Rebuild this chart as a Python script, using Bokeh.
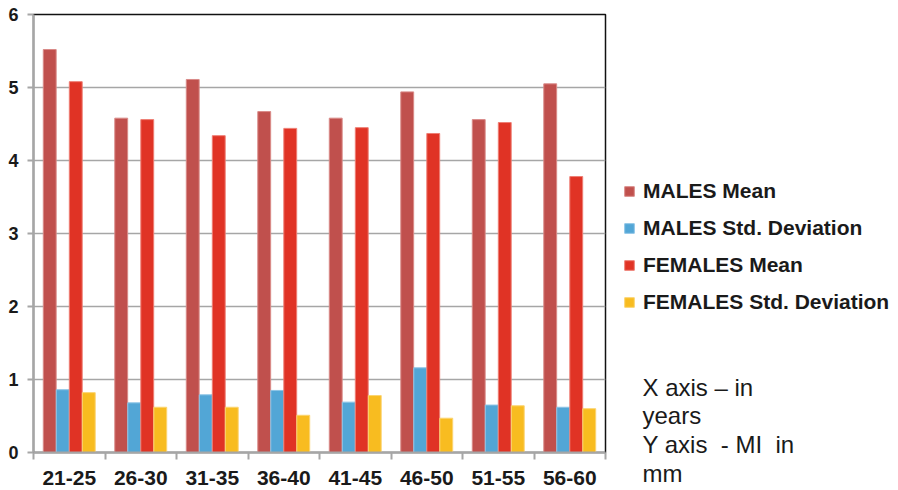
import numpy as np
from bokeh.plotting import figure
from bokeh.layouts import row
from bokeh.models import (ColumnDataSource, Range1d, LinearAxis,
                          FixedTicker, SingleIntervalTicker, Legend, Label)
from bokeh.transform import dodge
from bokeh.embed import file_html
from bokeh.resources import INLINE

categories = ["21-25", "26-30", "31-35", "36-40", "41-45", "46-50", "51-55", "56-60"]
males_mean = [5.52, 4.58, 5.11, 4.67, 4.58, 4.94, 4.56, 5.05]
males_sd = [0.86, 0.68, 0.79, 0.85, 0.69, 1.16, 0.65, 0.62]
females_mean = [5.08, 4.56, 4.34, 4.44, 4.45, 4.37, 4.52, 3.78]
females_sd = [0.82, 0.62, 0.62, 0.51, 0.78, 0.47, 0.64, 0.60]

series_names = ["MALES Mean", "MALES Std. Deviation", "FEMALES Mean", "FEMALES Std. Deviation"]
series_keys = ["mm", "ms", "fm", "fs"]
colors = ["#C0504D", "#52A6D6", "#E03325", "#F8BC20"]
edges = ["#D98A88", "#8CC4E6", "#EE7E74", "#FBD470"]
offsets = [-0.273, -0.091, 0.091, 0.273]
note_text = "X axis \u2013 in\nyears\nY axis\u00a0 - MI\u00a0 in\nmm"

n = len(categories)
centers = (np.arange(n) + 0.5).tolist()
boundaries = list(range(n + 1))
src = ColumnDataSource(dict(xc=centers, cat=categories, mm=males_mean, ms=males_sd,
                            fm=females_mean, fs=females_sd))

FONT = "Liberation Sans"
GRAY = "#A6A6A6"

p = figure(width=608, height=490, x_range=Range1d(0, n), y_range=Range1d(0, 6),
           x_axis_location=None, output_backend="svg", toolbar_location=None,
           min_border_left=33, min_border_right=3, min_border_top=14, min_border_bottom=38)
p.frame_align = False

for key, col, edge, off in zip(series_keys, colors, edges, offsets):
    p.vbar(x=dodge("xc", off), top=key, width=0.18, source=src,
           fill_color=col, line_color=edge, line_width=1)

# y axis
ya = p.yaxis[0]
ya.ticker = SingleIntervalTicker(interval=1)
ya.axis_line_color = GRAY
ya.axis_line_width = 2
ya.major_tick_line_color = GRAY
ya.major_tick_line_width = 2
ya.major_tick_out = 6
ya.major_tick_in = 0
ya.minor_tick_line_color = None
ya.major_label_standoff = 9
ya.major_label_text_font = FONT
ya.major_label_text_font_style = "bold"
ya.major_label_text_font_size = "18px"
ya.major_label_text_color = "#1a1a1a"

p.xgrid.visible = False
p.ygrid.grid_line_color = GRAY
p.ygrid.grid_line_width = 1.5
p.ygrid.ticker = SingleIntervalTicker(interval=1)

# x axis: labels at category centres, tick marks at category boundaries
xax = LinearAxis(ticker=FixedTicker(ticks=centers, minor_ticks=boundaries),
                 major_label_overrides={c: s for c, s in zip(centers, categories)})
xax.axis_line_color = GRAY
xax.axis_line_width = 2
xax.major_tick_line_color = None
xax.major_tick_out = 7
xax.major_tick_in = 0
xax.minor_tick_line_color = GRAY
xax.minor_tick_line_width = 2
xax.minor_tick_out = 7
xax.minor_tick_in = 0
xax.major_label_standoff = 11
xax.major_label_text_font = FONT
xax.major_label_text_font_style = "bold"
xax.major_label_text_font_size = "21px"
xax.major_label_text_color = "#1a1a1a"
p.add_layout(xax, "below")

p.outline_line_color = "#111111"
p.outline_line_width = 1.5

# side panel: legend and note
q = figure(width=290, height=490, x_range=Range1d(0, 1), y_range=Range1d(0, 1),
           x_axis_location=None, y_axis_location=None, output_backend="svg",
           toolbar_location=None, min_border=0)
q.frame_align = False
q.grid.visible = False
q.outline_line_color = None
proxies = [q.vbar(x="xc", top=key, width=0.18, source=src, fill_color=c, line_color=e, visible=False)
           for key, c, e in zip(series_keys, colors, edges)]

legend = Legend(items=[(nm, [r]) for nm, r in zip(series_names, proxies)], location=(15, 176))
legend.label_text_font = FONT
legend.label_text_font_style = "bold"
legend.label_text_font_size = "21px"
legend.label_text_color = "#1a1a1a"
legend.glyph_width = 12
legend.glyph_height = 12
legend.label_standoff = 8
legend.label_height = 23
legend.spacing = 13
legend.padding = 0
legend.margin = 0
legend.border_line_color = None
legend.background_fill_alpha = 0
q.add_layout(legend)

note = Label(x=34, y=117, x_units="screen", y_units="screen", text=note_text,
             text_font=FONT, text_font_size="24px", text_color="#1a1a1a",
             text_baseline="top", text_align="left", text_line_height=1.07)
q.add_layout(note)

layout = row(p, q)
open("out.html", "w").write(file_html(layout, INLINE))
